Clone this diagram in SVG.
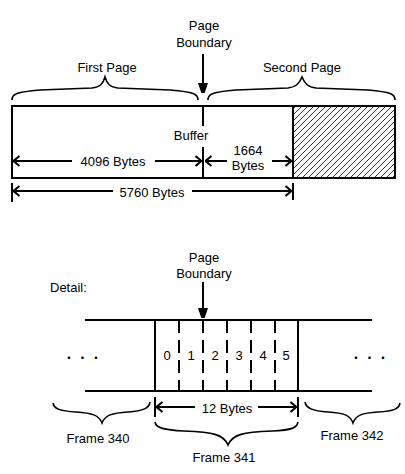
<svg xmlns="http://www.w3.org/2000/svg" width="405" height="474" viewBox="0 0 405 474">
<style>
text{font-family:"Liberation Sans",Arial,sans-serif;font-size:13px;fill:#000;text-anchor:middle}
.dots{font-size:16px;font-weight:bold;letter-spacing:9px}
.ln{stroke:#000;stroke-width:2;fill:none}
.br{stroke:#000;stroke-width:1.6;fill:none}
.dim{stroke:#000;stroke-width:2;fill:none;marker-start:url(#open);}
.dash{stroke:#000;stroke-width:2;stroke-dasharray:13 7;fill:none}
</style>
<defs>
<marker id="open" markerUnits="userSpaceOnUse" viewBox="0 0 8 12" refX="7.5" refY="6" markerWidth="8" markerHeight="12" orient="auto-start-reverse">
<path d="M1,1 L7,6 L1,11" fill="none" stroke="#000" stroke-width="2"/>
</marker>
<marker id="solid" markerUnits="userSpaceOnUse" viewBox="0 0 10 16" refX="10" refY="5" markerWidth="10" markerHeight="16" orient="auto">
<path d="M0,0 L15,5 L0,10 Z" fill="#000"/>
</marker>
<pattern id="hatch" patternUnits="userSpaceOnUse" width="6" height="6">
<path d="M-1,1 L1,-1 M0,6 L6,0 M5,7 L7,5" stroke="#000" stroke-width="0.8"/>
</pattern>
</defs>

<g id="top-boundary">
<text x="204" y="30">Page</text>
<text x="204" y="47">Boundary</text>
</g>
<g id="first-page">
<path class="br" d="M12,100 C12,94 16,92 40,90 L92,88 C100,87 103,84 105,77 C107,84 110,87 118,88 L170,90 C194,92 198,94 198,100"/>
<text x="107" y="72">First Page</text>
</g>
<g id="second-page">
<path class="br" d="M208,100 C208,94 212,92 236,90 L288,88 C296,87 299,84 302,77 C305,84 308,87 316,88 L368,90 C391,92 395,94 395,100"/>
<text x="302" y="72">Second Page</text>
</g>
<g id="buffer">
<rect x="293" y="106" width="102" height="72" fill="url(#hatch)"/>
<rect class="ln" x="12" y="106" width="383" height="72"/>
<line class="ln" x1="293" y1="106" x2="293" y2="178"/>
<line class="ln" x1="203" y1="106" x2="203" y2="126"/>
<line class="ln" x1="203" y1="147" x2="203" y2="178"/>
<text x="191" y="140">Buffer</text>
<text x="113" y="166">4096 Bytes</text>
<text x="248" y="155">1664</text>
<text x="248" y="170">Bytes</text>
</g>
<g id="total">
<text x="152" y="197">5760 Bytes</text>
</g>

<g id="bottom-boundary">
<text x="204" y="262">Page</text>
<text x="204" y="278">Boundary</text>
<text x="50" y="292" style="text-anchor:start">Detail:</text>
</g>
<g id="detail">
<line class="ln" x1="85" y1="320" x2="372" y2="320"/>
<line class="ln" x1="85" y1="391" x2="372" y2="391"/>
<line class="ln" x1="155" y1="320" x2="155" y2="391"/>
<line class="ln" x1="298" y1="320" x2="298" y2="391"/>
<line class="dash" x1="179" y1="320" x2="179" y2="391"/>
<line class="dash" x1="203" y1="320" x2="203" y2="391"/>
<line class="dash" x1="227" y1="320" x2="227" y2="391"/>
<line class="dash" x1="251" y1="320" x2="251" y2="391"/>
<line class="dash" x1="275" y1="320" x2="275" y2="391"/>
<text x="167" y="360">0</text>
<text x="191" y="360">1</text>
<text x="215" y="360">2</text>
<text x="239" y="360">3</text>
<text x="263" y="360">4</text>
<text x="286" y="360">5</text>
<text class="dots" x="87" y="359">...</text>
<text class="dots" x="374" y="359">...</text>
<text x="227" y="413">12 Bytes</text>
</g>
<g id="frame-340">
<path class="br" d="M53,403 C54,409 60,411 76,412 C92,413 99,415 102,423 C105,415 112,413 128,412 C144,411 149,408 150,402"/>
<text x="98" y="443">Frame 340</text>
</g>
<g id="frame-341">
<path class="br" d="M155,422 C156,428 164,430 184,431 C214,432 224,435 228,445 C232,435 242,432 272,431 C292,430 297,428 298,422"/>
<text x="224" y="462">Frame 341</text>
</g>
<g id="frame-342">
<path class="br" d="M305,402 C306,408 312,411 328,412 C344,413 350,415 353,423 C356,415 362,413 378,412 C394,411 399,409 400,403"/>
<text x="352" y="440">Frame 342</text>
</g>

<g id="connectors">
<line x1="203" y1="54" x2="203" y2="93" stroke="#000" stroke-width="2" marker-end="url(#solid)"/>
<line x1="203" y1="282" x2="203" y2="318" stroke="#000" stroke-width="2" marker-end="url(#solid)"/>
<line class="dim" x1="13" y1="161" x2="72" y2="161"/>
<line class="dim" x1="202" y1="161" x2="155" y2="161"/>
<line class="dim" x1="205" y1="161" x2="227" y2="161"/>
<line class="dim" x1="292" y1="161" x2="272" y2="161"/>
<line class="ln" x1="12" y1="183" x2="12" y2="202"/>
<line class="ln" x1="293" y1="183" x2="293" y2="200"/>
<line class="dim" x1="13" y1="191" x2="113" y2="191"/>
<line class="dim" x1="292" y1="191" x2="192" y2="191"/>
<line class="ln" x1="155" y1="397" x2="155" y2="417"/>
<line class="ln" x1="298" y1="397" x2="298" y2="417"/>
<line class="dim" x1="156" y1="407" x2="195" y2="407"/>
<line class="dim" x1="297" y1="407" x2="258" y2="407"/>
</g>
</svg>
